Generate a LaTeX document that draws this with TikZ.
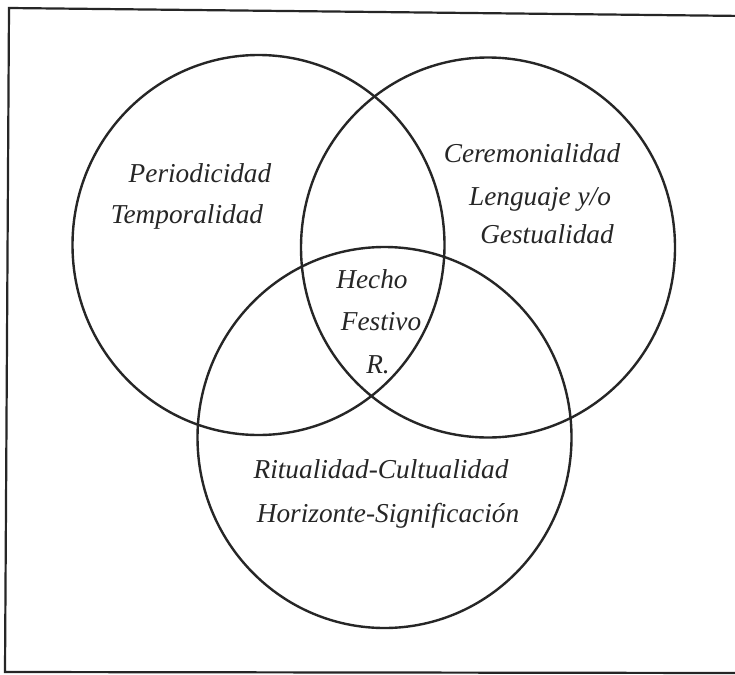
\documentclass[tikz,border=0pt]{standalone}
\usepackage{fontspec}
\setmainfont{Liberation Serif}
\usetikzlibrary{shapes.geometric}
\definecolor{ink}{HTML}{262626}
\tikzset{
  ring/.style={draw=ink, line width=2.4pt, ellipse, inner sep=0pt, minimum width=374pt, minimum height=380pt},
  frameline/.style={draw=ink, line width=2.2pt, line join=miter},
  lbl/.style={anchor=base, inner sep=0pt, text=ink, font=\fontsize{27.3}{33}\selectfont\itshape}
}
\begin{document}
\begin{tikzpicture}[x=1pt,y=-1pt]
\useasboundingbox (0,0) rectangle (735,674);
\fill[white] (0,0) rectangle (735,674);
% frame
\coordinate (ftr) at (745,16);
\coordinate (ftl) at (9,8);
\coordinate (fbl) at (5,672);
\coordinate (fbr) at (745,673);
\draw[frameline] (ftr) -- (ftl) -- (fbl) -- (fbr);
% circles
\node[ring, minimum width=372pt] (cL) at (258.5,245) {};
\node[ring] (cR) at (488,247.5) {};
\node[ring, minimum height=381pt] (cB) at (384.5,437.5) {};
% labels
\node[lbl] (t1) at (200,182) {Periodicidad};
\node[lbl] (t2) at (187,223) {Temporalidad};
\node[lbl] (t3) at (532,162) {Ceremonialidad};
\node[lbl] (t4) at (540,205) {Lenguaje y/o};
\node[lbl] (t5) at (547,243) {Gestualidad};
\node[lbl] (t6) at (372,288) {Hecho};
\node[lbl] (t7) at (381,330) {Festivo};
\node[lbl] (t8) at (378,373) {R.};
\node[lbl] (t9) at (381,478) {Ritualidad-Cultualidad};
\node[lbl] (t10) at (388,522) {Horizonte-Significación};
\end{tikzpicture}
\end{document}
